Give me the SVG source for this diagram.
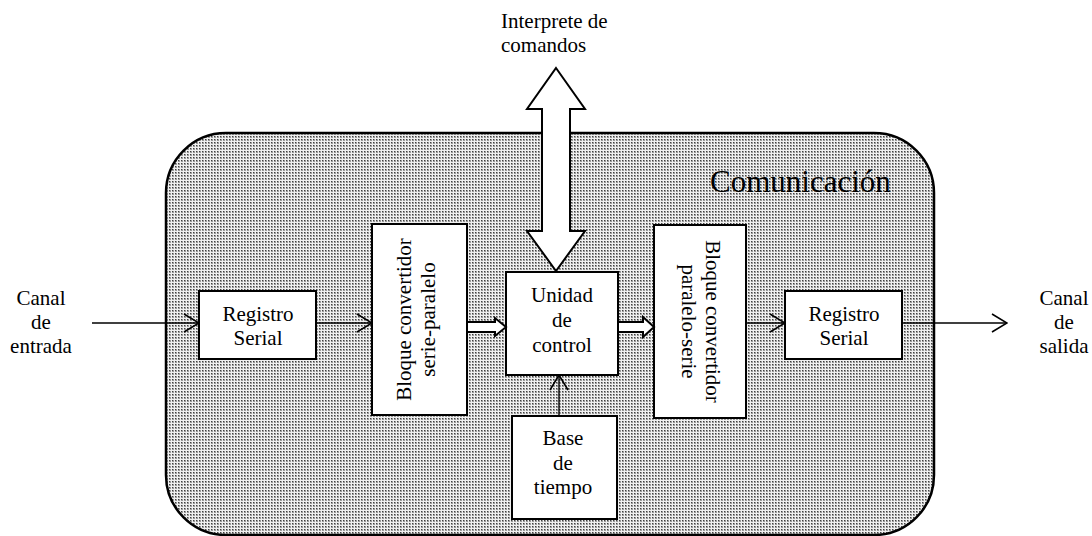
<svg xmlns="http://www.w3.org/2000/svg" width="1092" height="536" viewBox="0 0 1092 536">
  <defs>
    <!-- stippled fill for the communication block -->
    <pattern id="stipple" width="3" height="3" patternUnits="userSpaceOnUse">
      <rect width="3" height="3" fill="#f0f0f0"/>
      <rect x="1" y="1" width="2" height="2" fill="#9a9a9a"/>
      <rect x="1" y="1" width="1" height="1" fill="#404040"/>
    </pattern>
    <marker id="open" viewBox="0 0 17 20" refX="16" refY="10" markerWidth="17" markerHeight="20" markerUnits="userSpaceOnUse" orient="auto">
      <path d="M1,1 L16,10 L1,19" fill="none" stroke="#000" stroke-width="1.6"/>
    </marker>
    <style>
      .box { fill: #fff; stroke: #000; stroke-width: 2; }
      .wire { stroke: #000; stroke-width: 1.4; fill: none; }
      .fat { fill: #fff; stroke: #000; stroke-width: 2; stroke-linejoin: miter; }
    </style>
  </defs>

  <g font-family="'Liberation Serif', 'DejaVu Serif', serif" font-size="21" fill="#000">
    <!-- communication block -->
    <g id="comunicacion">
      <rect x="166" y="133" width="768" height="402" rx="60" ry="60" fill="url(#stipple)" stroke="#000" stroke-width="2.5"/>
      <text x="710" y="192" font-size="31">Comunicación</text>
    </g>

    <!-- external labels -->
    <g id="canal-entrada" text-anchor="middle">
      <text x="41" y="305">Canal</text>
      <text x="41" y="329">de</text>
      <text x="41" y="353">entrada</text>
    </g>
    <g id="canal-salida" text-anchor="middle">
      <text x="1064" y="305">Canal</text>
      <text x="1064" y="329">de</text>
      <text x="1064" y="353">salida</text>
    </g>
    <g id="interprete">
      <text x="501" y="28">Interprete de</text>
      <text x="501" y="52">comandos</text>
    </g>

    <!-- inner blocks -->
    <g id="registro-entrada" text-anchor="middle">
      <rect class="box" x="199" y="291" width="117" height="68"/>
      <text x="258" y="321">Registro</text>
      <text x="258" y="345">Serial</text>
    </g>
    <g id="serie-paralelo" text-anchor="middle">
      <rect class="box" x="372" y="224" width="95" height="191"/>
      <text transform="translate(411 319.5) rotate(-90)">Bloque convertidor</text>
      <text transform="translate(435 319.5) rotate(-90)">serie-paralelo</text>
    </g>
    <g id="unidad-control" text-anchor="middle">
      <rect class="box" x="506" y="272" width="112" height="103"/>
      <text x="562" y="302">Unidad</text>
      <text x="562" y="327">de</text>
      <text x="562" y="352">control</text>
    </g>
    <g id="paralelo-serie" text-anchor="middle">
      <rect class="box" x="654" y="225" width="92" height="193"/>
      <text transform="translate(706 321.5) rotate(90)">Bloque convertidor</text>
      <text transform="translate(682 321.5) rotate(90)">paralelo-serie</text>
    </g>
    <g id="registro-salida" text-anchor="middle">
      <rect class="box" x="785" y="291" width="117" height="68"/>
      <text x="844" y="321">Registro</text>
      <text x="844" y="345">Serial</text>
    </g>
    <g id="base-tiempo" text-anchor="middle">
      <rect class="box" x="512" y="416" width="105" height="103"/>
      <text x="563" y="445">Base</text>
      <text x="563" y="470">de</text>
      <text x="563" y="494">tiempo</text>
    </g>
  </g>

  <!-- connectors -->
  <g id="connectors">
    <line class="wire" x1="92" y1="323" x2="199" y2="323" marker-end="url(#open)"/>
    <line class="wire" x1="316" y1="323" x2="372" y2="323" marker-end="url(#open)"/>
    <line class="wire" x1="746" y1="323" x2="785" y2="323" marker-end="url(#open)"/>
    <line class="wire" x1="902" y1="323" x2="1007" y2="323" marker-end="url(#open)"/>
    <line class="wire" x1="559" y1="416" x2="559" y2="375" marker-end="url(#open)"/>
    <polygon class="fat" points="467,322 495,322 495,318 506,327 495,336 495,332 467,332"/>
    <polygon class="fat" points="618,322 643,322 643,317 654,327 643,337 643,332 618,332"/>
    <polygon class="fat" points="556,68 585,109 570,109 570,231 585,231 556,271 527,231 542,231 542,109 527,109"/>
  </g>
</svg>
